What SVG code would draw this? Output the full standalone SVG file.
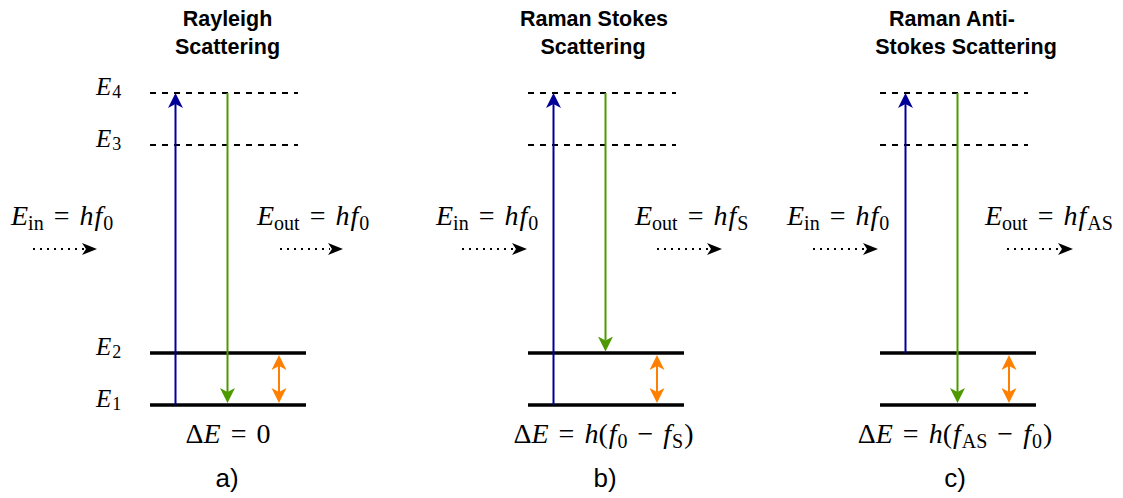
<svg xmlns="http://www.w3.org/2000/svg" width="1123" height="498" viewBox="0 0 1123 498">
<defs>
<style>
.title{font-family:"Liberation Sans",Arial,sans-serif;font-size:21.5px;font-weight:bold;text-anchor:middle;fill:#000}
.cap{font-family:"Liberation Sans",Arial,sans-serif;font-size:26px;text-anchor:middle;fill:#000}
.m{font-family:"Liberation Serif","Times New Roman",serif;font-size:28px;fill:#000}
.lv{font-family:"Liberation Serif","Times New Roman",serif;font-size:25px;fill:#000}
.i{font-style:italic}
.s{font-size:20px}
.ls{font-size:18px}
.dash{stroke:#000;stroke-width:2;stroke-dasharray:6 6;fill:none}
.level{stroke:#000;stroke-width:3.5;fill:none}
.up{stroke:#000099;stroke-width:2;fill:none;marker-end:url(#mBlue)}
.down{stroke:#4D9900;stroke-width:2;fill:none;marker-end:url(#mGreen)}
.vib{stroke:#FF8000;stroke-width:2;fill:none;marker-start:url(#mOrange);marker-end:url(#mOrange)}
.photon{stroke:#000;stroke-width:2;stroke-dasharray:2 5;fill:none;marker-end:url(#mBlack)}
</style>
<marker id="mBlue" markerUnits="userSpaceOnUse" markerWidth="16" markerHeight="16" refX="4" refY="7.5" orient="auto"><path d="M0,0 L15,7.5 L0,15 L4,7.5 Z" fill="#000099"/></marker>
<marker id="mGreen" markerUnits="userSpaceOnUse" markerWidth="16" markerHeight="16" refX="4" refY="7.5" orient="auto"><path d="M0,0 L15,7.5 L0,15 L4,7.5 Z" fill="#4D9900"/></marker>
<marker id="mOrange" markerUnits="userSpaceOnUse" markerWidth="16" markerHeight="16" refX="4" refY="7.5" orient="auto-start-reverse"><path d="M0,0 L15,7.5 L0,15 L4,7.5 Z" fill="#FF8000"/></marker>
<marker id="mBlack" markerUnits="userSpaceOnUse" markerWidth="16" markerHeight="14" refX="2" refY="6" orient="auto"><path d="M0,0 L15,6 L0,12 L4,6 Z" fill="#000"/></marker>
</defs>
<rect width="1123" height="498" fill="#fff"/>

<g id="panel-a">
  <text class="title" x="227.5" y="26">Rayleigh</text>
  <text class="title" x="227.5" y="54">Scattering</text>
  <g id="a-levels">
    <line class="dash" x1="150" y1="93" x2="298" y2="93"/>
    <line class="dash" x1="150" y1="145" x2="298" y2="145"/>
    <line class="level" x1="150" y1="353" x2="306" y2="353"/>
    <line class="level" x1="150" y1="405" x2="306" y2="405"/>
  </g>
  <g id="a-level-labels">
    <text class="lv" x="96" y="94.5"><tspan class="i">E</tspan><tspan class="ls" dy="3" dx="1">4</tspan></text>
    <text class="lv" x="96" y="146.5"><tspan class="i">E</tspan><tspan class="ls" dy="3" dx="1">3</tspan></text>
    <text class="lv" x="96" y="355"><tspan class="i">E</tspan><tspan class="ls" dy="3" dx="1">2</tspan></text>
    <text class="lv" x="96" y="407"><tspan class="i">E</tspan><tspan class="ls" dy="3" dx="1">1</tspan></text>
  </g>
  <text class="m" x="11" y="225"><tspan class="i">E</tspan><tspan class="s" dy="5">in</tspan><tspan dy="-5" dx="3"> = </tspan><tspan class="i" dx="3">h</tspan><tspan class="i" dx="1">f</tspan><tspan class="s" dy="5" dx="1">0</tspan></text>
  <text class="m" x="257" y="225"><tspan class="i">E</tspan><tspan class="s" dy="5">out</tspan><tspan dy="-5" dx="3"> = </tspan><tspan class="i" dx="3">h</tspan><tspan class="i" dx="1">f</tspan><tspan class="s" dy="5" dx="1">0</tspan></text>
  <text class="m" x="228" y="443" text-anchor="middle">Δ<tspan class="i">E</tspan><tspan dx="3"> = </tspan><tspan dx="3">0</tspan></text>
  <text class="cap" x="227" y="487">a)</text>
</g>

<g id="panel-b">
  <text class="title" x="594" y="26">Raman Stokes</text>
  <text class="title" x="593" y="54">Scattering</text>
  <g id="b-levels">
    <line class="dash" x1="528" y1="93" x2="676" y2="93"/>
    <line class="dash" x1="528" y1="145" x2="676" y2="145"/>
    <line class="level" x1="528" y1="353" x2="684" y2="353"/>
    <line class="level" x1="528" y1="405" x2="684" y2="405"/>
  </g>
  <text class="m" x="436" y="225"><tspan class="i">E</tspan><tspan class="s" dy="5">in</tspan><tspan dy="-5" dx="3"> = </tspan><tspan class="i" dx="3">h</tspan><tspan class="i" dx="1">f</tspan><tspan class="s" dy="5" dx="1">0</tspan></text>
  <text class="m" x="635" y="225"><tspan class="i">E</tspan><tspan class="s" dy="5">out</tspan><tspan dy="-5" dx="3"> = </tspan><tspan class="i" dx="3">h</tspan><tspan class="i" dx="1">f</tspan><tspan class="s" dy="5" dx="1">S</tspan></text>
  <text class="m" x="603.5" y="443" text-anchor="middle">Δ<tspan class="i">E</tspan><tspan dx="3"> = </tspan><tspan class="i" dx="3">h</tspan>(<tspan class="i" dx="1">f</tspan><tspan class="s" dy="5" dx="1">0</tspan><tspan dy="-5" dx="3"> − </tspan><tspan class="i" dx="3">f</tspan><tspan class="s" dy="5" dx="1">S</tspan><tspan dy="-5" dx="1">)</tspan></text>
  <text class="cap" x="605" y="487">b)</text>
</g>

<g id="panel-c">
  <text class="title" x="952" y="26">Raman Anti-</text>
  <text class="title" x="966" y="54">Stokes Scattering</text>
  <g id="c-levels">
    <line class="dash" x1="880" y1="93" x2="1028" y2="93"/>
    <line class="dash" x1="880" y1="145" x2="1028" y2="145"/>
    <line class="level" x1="880" y1="353" x2="1036" y2="353"/>
    <line class="level" x1="880" y1="405" x2="1036" y2="405"/>
  </g>
  <text class="m" x="787" y="225"><tspan class="i">E</tspan><tspan class="s" dy="5">in</tspan><tspan dy="-5" dx="3"> = </tspan><tspan class="i" dx="3">h</tspan><tspan class="i" dx="1">f</tspan><tspan class="s" dy="5" dx="1">0</tspan></text>
  <text class="m" x="985" y="225"><tspan class="i">E</tspan><tspan class="s" dy="5">out</tspan><tspan dy="-5" dx="3"> = </tspan><tspan class="i" dx="3">h</tspan><tspan class="i" dx="1">f</tspan><tspan class="s" dy="5" dx="1">AS</tspan></text>
  <text class="m" x="955" y="443" text-anchor="middle">Δ<tspan class="i">E</tspan><tspan dx="3"> = </tspan><tspan class="i" dx="3">h</tspan>(<tspan class="i" dx="1">f</tspan><tspan class="s" dy="5" dx="1">AS</tspan><tspan dy="-5" dx="3"> − </tspan><tspan class="i" dx="3">f</tspan><tspan class="s" dy="5" dx="1">0</tspan><tspan dy="-5" dx="1">)</tspan></text>
  <text class="cap" x="955" y="487">c)</text>
</g>

<g id="connectors">
  <line class="up" x1="175.5" y1="405" x2="175.5" y2="104"/>
  <line class="down" x1="227.5" y1="93" x2="227.5" y2="392"/>
  <line class="vib" x1="279" y1="366" x2="279" y2="392"/>
  <line class="photon" x1="33" y1="249" x2="84" y2="249"/>
  <line class="photon" x1="280" y1="249" x2="330" y2="249"/>

  <line class="up" x1="553.5" y1="405" x2="553.5" y2="104"/>
  <line class="down" x1="605.5" y1="93" x2="605.5" y2="340.5"/>
  <line class="vib" x1="657" y1="366" x2="657" y2="392"/>
  <line class="photon" x1="462" y1="249" x2="514" y2="249"/>
  <line class="photon" x1="657" y1="249" x2="709" y2="249"/>

  <line class="up" x1="905.5" y1="353" x2="905.5" y2="104"/>
  <line class="down" x1="957.5" y1="93" x2="957.5" y2="392"/>
  <line class="vib" x1="1009" y1="366" x2="1009" y2="392"/>
  <line class="photon" x1="813" y1="249" x2="865" y2="249"/>
  <line class="photon" x1="1007" y1="249" x2="1060" y2="249"/>
</g>
</svg>
